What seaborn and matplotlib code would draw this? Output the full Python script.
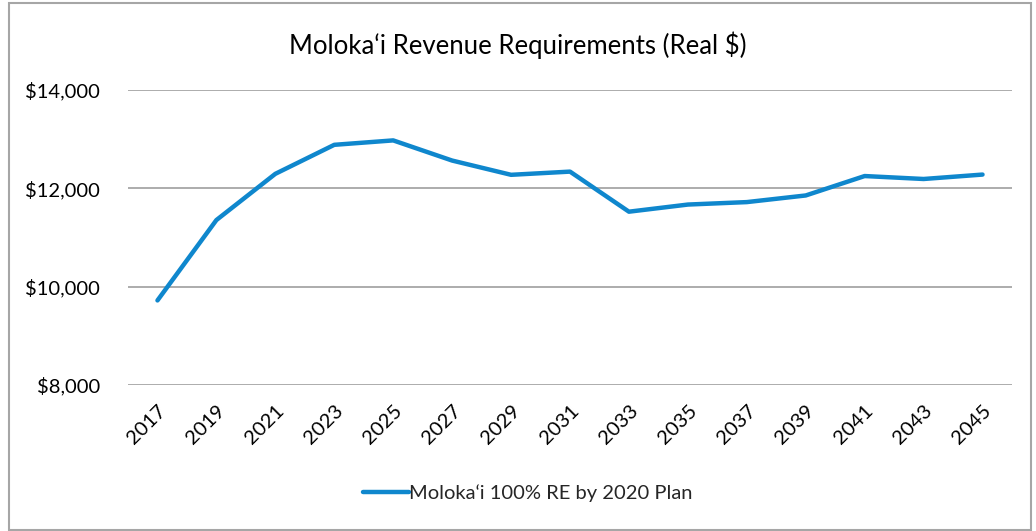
import matplotlib
matplotlib.use("Agg")
import matplotlib.pyplot as plt
import seaborn as sns
import pandas as pd
from matplotlib.patches import Rectangle
from matplotlib.ticker import FuncFormatter

years = ["2017", "2019", "2021", "2023", "2025", "2027", "2029", "2031",
         "2033", "2035", "2037", "2039", "2041", "2043", "2045"]
revenue = [9720, 11355, 12295, 12885, 12975, 12565, 12275, 12340,
           11525, 11670, 11720, 11855, 12250, 12190, 12280]
series_name = "Moloka\u2018i 100% RE by 2020 Plan"
title = "Moloka\u2018i Revenue Requirements (Real $)"
yticks = [8000, 10000, 12000, 14000]

df = pd.DataFrame({"year": years, "value": revenue, "series": series_name})

sns.set_theme(style="white")
plt.rcParams["font.family"] = ["Lato", "DejaVu Sans"]

fig = plt.figure(figsize=(10.36, 5.31), dpi=100)
ax = fig.add_axes([128/1036, 1-385/531, (1012-128)/1036, (385-90)/531])

line_color = "#0F87CD"
sns.lineplot(data=df, x="year", y="value", hue="series", palette=[line_color],
             linewidth=3.2, ax=ax, sort=False)

ax.set_xlim(-0.5, len(years) - 0.5)
ax.set_ylim(8000, 14000)
ax.set_yticks(yticks)
ax.yaxis.set_major_formatter(FuncFormatter(lambda v, p: f"${v:,.0f}"))
ax.grid(axis="y", color="#a6a6a6", linewidth=1.3)
ax.set_axisbelow(True)
for s in ax.spines.values():
    s.set_visible(False)
ax.set_xlabel("")
ax.set_ylabel("")
ax.tick_params(axis="y", labelsize=14.5, pad=20, length=0, colors="black")
ax.tick_params(axis="x", labelsize=14.5, pad=12, length=0, colors="black")
plt.setp(ax.get_xticklabels(), rotation=45, ha="right", rotation_mode="anchor")

fig.text(0.5, 1 - 45/531, title, fontsize=18.5, ha="center", va="center",
         color="black")

leg = ax.legend(loc="center", bbox_to_anchor=(528/1036, 1 - 493/531),
                bbox_transform=fig.transFigure, frameon=False, fontsize=14.5,
                handlelength=2.3, handletextpad=0.0)

fig.patches.append(Rectangle((9/1036, 1-530/531), (1031-9)/1036, (530-3)/531,
                             transform=fig.transFigure, fill=False,
                             edgecolor="#a6a6a6", linewidth=1.5))

fig.savefig("out.png", dpi=100)
